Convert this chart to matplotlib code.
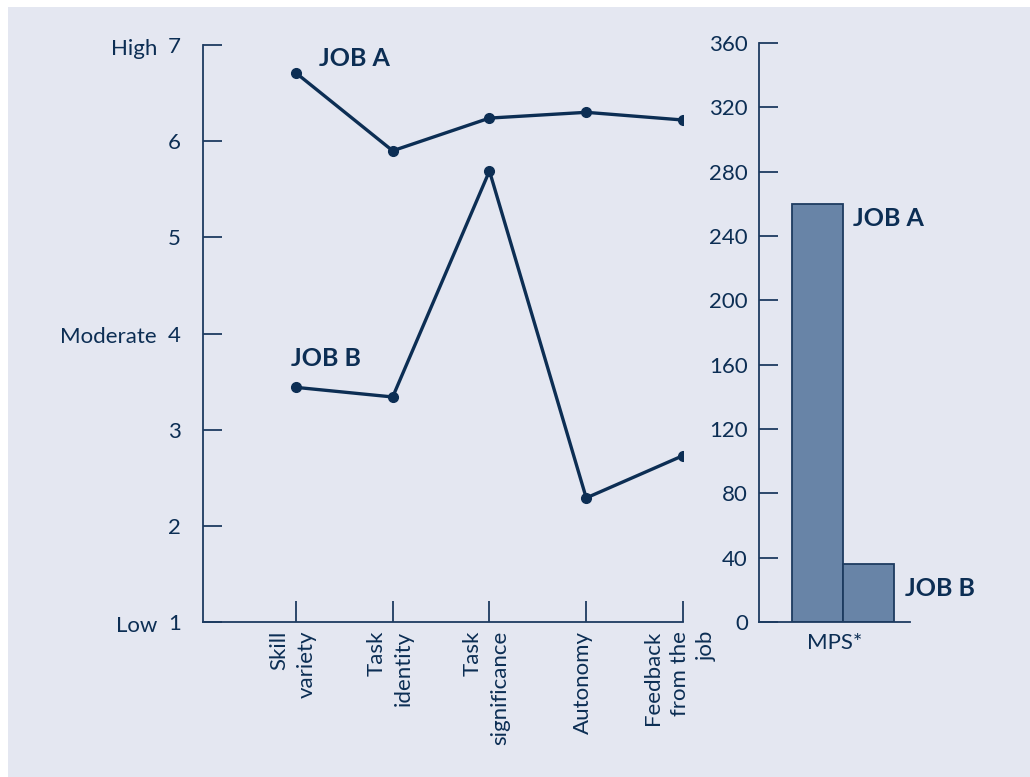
import matplotlib.pyplot as plt
from matplotlib.patches import Rectangle
from matplotlib.transforms import blended_transform_factory

plt.rcParams['font.family'] = ['Lato', 'DejaVu Sans']

# job characteristic scores (1 = low, 7 = high)
categories = ['Skill\nvariety', 'Task\nidentity', 'Task\nsignificance', 'Autonomy', 'Feedback\nfrom the\njob']
job_a = [6.71, 5.90, 6.24, 6.30, 6.22]
job_b = [3.44, 3.34, 5.69, 2.29, 2.73]

# motivating potential score
mps_jobs = ['JOB A', 'JOB B']
mps_values = [260, 36]

left_ticks = [1, 2, 3, 4, 5, 6, 7]
level_names = {7: 'High', 4: 'Moderate', 1: 'Low'}
right_ticks = [0, 40, 80, 120, 160, 200, 240, 280, 320, 360]

navy = '#0c2e54'
axis_col = '#1d3b60'
bg = '#e4e7f1'
bar_col = '#6884a7'

W, H = 1030, 777
fig = plt.figure(figsize=(W / 100, H / 100), dpi=100, facecolor='white')
fig.patches.append(Rectangle((8 / W, 0), 1 - 8 / W, 1 - 7 / H, transform=fig.transFigure,
                             facecolor=bg, edgecolor='none', zorder=-10))

def px_axes(x0, y0, x1, y1):
    a = fig.add_axes([x0 / W, 1 - y1 / H, (x1 - x0) / W, (y1 - y0) / H])
    a.set_facecolor('none')
    for s in ['top', 'right']:
        a.spines[s].set_visible(False)
    for s in ['left', 'bottom']:
        a.spines[s].set_color(axis_col)
        a.spines[s].set_linewidth(1.3)
    return a

# ---- line chart ----
ax = px_axes(203, 45, 683, 622)
xs = list(range(len(categories)))
ax.plot(xs, job_a, color=navy, lw=2.4, marker='o', ms=7, zorder=3)
ax.plot(xs, job_b, color=navy, lw=2.4, marker='o', ms=7, zorder=3)
ax.set_xlim(-0.96, 4.0)
ax.set_ylim(1, 7)
ax.set_yticks(left_ticks)
ax.set_yticklabels([str(t) for t in left_ticks])
ax.set_xticks(xs)
ax.set_xticklabels([])
ax.tick_params(axis='y', direction='in', length=14, width=1.3, color=axis_col,
               labelsize=16, labelcolor=navy, pad=16)
ax.tick_params(axis='x', direction='in', length=15, width=1.3, color=axis_col)

for x, lab in zip(xs, categories):
    ax.text(x - 0.03, -0.015, lab, transform=blended_transform_factory(ax.transData, ax.transAxes),
            rotation=90, ha='center', va='top', multialignment='right',
            fontsize=16, color=navy, linespacing=1.45)

lvl_tr = blended_transform_factory(fig.transFigure, ax.transData)
for v, name in level_names.items():
    ax.text(157 / W, v - 0.04, name, transform=lvl_tr, ha='right', va='center',
            fontsize=16, color=navy)

ax.text(0.24, job_a[0] + 0.15, 'JOB A', fontsize=18, fontweight='bold', color=navy, va='center')
ax.text(-0.05, job_b[0] + 0.3, 'JOB B', fontsize=18, fontweight='bold', color=navy, va='center')

# ---- MPS bars ----
bx = px_axes(759, 43, 910, 622)
bpos = [0, 1]
bx.bar(bpos, mps_values, width=1.0, color=bar_col, edgecolor=axis_col, linewidth=1.3)
bx.set_xlim(-1.147, 1.814)
bx.set_ylim(0, 360)
bx.set_yticks(right_ticks)
bx.set_xticks([])
bx.tick_params(axis='y', direction='in', length=14, width=1.3, color=axis_col,
               labelsize=16, labelcolor=navy, pad=8)
bx.set_xlabel('MPS*', fontsize=16, color=navy, labelpad=8)
bx.text(0.7, mps_values[0] - 9, mps_jobs[0], fontsize=18, fontweight='bold', color=navy, va='center')
bx.text(1.72, mps_values[1] - 15, mps_jobs[1], fontsize=18, fontweight='bold', color=navy, va='center')

fig.savefig('out.png', dpi=100, facecolor=fig.get_facecolor())
